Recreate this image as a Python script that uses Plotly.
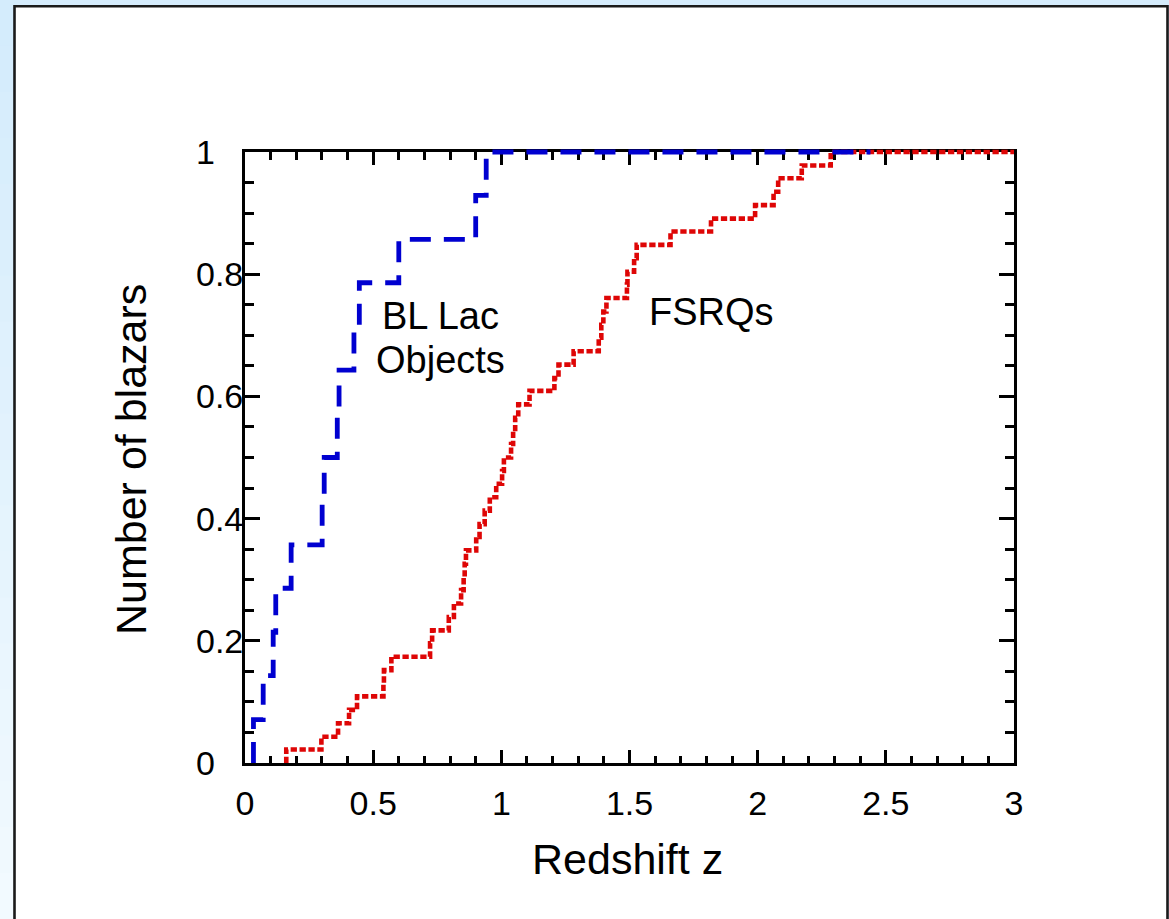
import plotly.graph_objects as go

# ---------------- data ----------------
bllac_z = [0.033, 0.071, 0.110, 0.120, 0.180, 0.301, 0.309, 0.360, 0.367,
           0.425, 0.446, 0.600, 0.900, 0.941]
bllac_frac = [0.071, 0.143, 0.214, 0.286, 0.357, 0.429, 0.500, 0.571, 0.643,
              0.714, 0.786, 0.857, 0.929, 1.000]
bllac_end_z = 2.44

fsrq_z = [0.161, 0.298, 0.363, 0.406, 0.437, 0.540, 0.542, 0.571, 0.722, 0.730,
          0.795, 0.815, 0.843, 0.853, 0.857, 0.862, 0.902, 0.915, 0.935, 0.955,
          0.980, 1.003, 1.010, 1.038, 1.046, 1.054, 1.066, 1.110, 1.207, 1.223,
          1.282, 1.380, 1.390, 1.398, 1.410, 1.490, 1.492, 1.518, 1.528, 1.660,
          1.818, 1.990, 2.062, 2.080, 2.172, 2.285]
fsrq_frac = [0.022, 0.043, 0.065, 0.087, 0.109, 0.130, 0.152, 0.174, 0.196, 0.217,
             0.239, 0.261, 0.283, 0.304, 0.326, 0.348, 0.370, 0.391, 0.413, 0.435,
             0.457, 0.478, 0.500, 0.522, 0.543, 0.565, 0.587, 0.609, 0.630, 0.652,
             0.674, 0.696, 0.717, 0.739, 0.761, 0.783, 0.804, 0.826, 0.848, 0.870,
             0.891, 0.913, 0.935, 0.957, 0.978, 1.000]
fsrq_end_z = 3.0

x_range = [0, 3]
y_range = [0, 1]
x_tick_vals = [0, 0.5, 1, 1.5, 2, 2.5, 3]
x_tick_text = ["0", "0.5", "1", "1.5", "2", "2.5", "3"]
y_tick_vals = [0, 0.2, 0.4, 0.6, 0.8, 1]
y_tick_text = ["0", "0.2", "0.4", "0.6", "0.8", "1"]

x_title = "Redshift z"
y_title = "Number of blazars"
label_bllac = ["BL Lac", "Objects"]
label_fsrq = "FSRQs"

# ---------------- layout geometry (pixels) ----------------
W, H = 1169, 919
PL, PR, PT, PB = 245, 1014, 152, 763     # frame of the main axes
PAD = 12                                  # extra room so lines on the frame are not clipped
ml, mr, mt, mb = PL - PAD, W - PR - PAD, PT - PAD, H - PB - PAD
pw, ph = W - ml - mr, H - mt - mb

def px_x(px):
    return (px - ml) / pw

def px_y(py):
    return (H - mb - py) / ph

ux = (x_range[1] - x_range[0]) / (PR - PL)
uy = (y_range[1] - y_range[0]) / (PB - PT)

FONT = "Arial, Liberation Sans, sans-serif"
BLUE = "rgb(0,0,208)"
RED = "rgb(222,6,6)"
TICK_SIZE = 34

fig = go.Figure()

# dummy trace so the framed axes exist
fig.add_trace(go.Scatter(x=x_range, y=y_range, mode="markers",
                         marker=dict(opacity=0, size=1), hoverinfo="skip",
                         showlegend=False, xaxis="x", yaxis="y"))

fig.add_trace(go.Scatter(
    x=[fsrq_z[0]] + fsrq_z + [fsrq_end_z],
    y=[0] + fsrq_frac + [fsrq_frac[-1]],
    mode="lines", line=dict(shape="hv", color=RED, width=4.6, dash="6.3px,2.6px"),
    showlegend=False, xaxis="x2", yaxis="y2", hoverinfo="skip"))

fig.add_trace(go.Scatter(
    x=[bllac_z[0]] + bllac_z + [bllac_end_z],
    y=[0] + bllac_frac + [bllac_frac[-1]],
    mode="lines", line=dict(shape="hv", color=BLUE, width=4.8, dash="21px,13px"),
    showlegend=False, xaxis="x2", yaxis="y2", hoverinfo="skip"))

axis_common = dict(showline=True, linecolor="black", linewidth=3, mirror="ticks",
                   ticks="inside", tickcolor="black", tickwidth=3,
                   showgrid=False, zeroline=False, fixedrange=True)

fig.update_layout(
    width=W, height=H,
    margin=dict(l=ml, r=mr, t=mt, b=mb, pad=0),
    paper_bgcolor="rgb(213,236,252)",
    plot_bgcolor="rgba(0,0,0,0)",
    font=dict(family=FONT, color="black"),
    xaxis=dict(domain=[PAD / pw, 1 - PAD / pw], range=x_range, anchor="y",
               tickmode="array", tickvals=x_tick_vals, ticktext=x_tick_text,
               ticklen=13, ticklabelstandoff=8,
               tickfont=dict(size=TICK_SIZE, family=FONT, color="black"),
               minor=dict(dtick=0.1, tick0=0, ticks="inside", ticklen=7.5,
                          tickwidth=3, tickcolor="black", showgrid=False),
               **axis_common),
    yaxis=dict(domain=[PAD / ph, 1 - PAD / ph], range=y_range, anchor="x",
               tickmode="array", tickvals=y_tick_vals, showticklabels=False,
               ticklen=15,
               minor=dict(dtick=0.05, tick0=0, ticks="inside", ticklen=9,
                          tickwidth=3, tickcolor="black", showgrid=False),
               **axis_common),
    xaxis2=dict(domain=[0, 1], range=[x_range[0] - PAD * ux, x_range[1] + PAD * ux],
                anchor="y2", visible=False, fixedrange=True),
    yaxis2=dict(domain=[0, 1], range=[y_range[0] - PAD * uy, y_range[1] + PAD * uy],
                anchor="x2", visible=False, fixedrange=True),
)

shapes = []
# soft gradient on the light-blue margin
n_bands = 20
for i in range(n_bands):
    t = i / (n_bands - 1)
    r = int(212 + (242 - 212) * t)
    g = int(236 + (250 - 236) * t)
    b = int(252 + (255 - 252) * t)
    y0 = i * H / n_bands
    y1 = (i + 1) * H / n_bands + 1
    shapes.append(dict(type="rect", xref="paper", yref="paper",
                       x0=px_x(0), x1=px_x(16), y0=px_y(y0), y1=px_y(y1),
                       fillcolor=f"rgb({r},{g},{b})", line=dict(width=0), layer="below"))
# white panel with dark border
shapes.append(dict(type="rect", xref="paper", yref="paper",
                   x0=px_x(14.5), x1=px_x(1167.5), y0=px_y(940), y1=px_y(6.3),
                   fillcolor="white", line=dict(color="#1a1a1a", width=2.6), layer="below"))
fig.update_layout(shapes=shapes)

ann = []
for v, t in zip(y_tick_vals, y_tick_text):
    ann.append(dict(x=px_x(194), xref="paper", y=v, yref="y", text=t, showarrow=False,
                    xanchor="left", yanchor="middle",
                    font=dict(size=TICK_SIZE, family=FONT, color="black")))
ann.append(dict(x=px_x(627), xref="paper", y=px_y(859), yref="paper", text=x_title,
                showarrow=False, xanchor="center", yanchor="middle",
                font=dict(size=43, family=FONT, color="black")))
ann.append(dict(x=px_x(131), xref="paper", y=px_y(460), yref="paper", text=y_title,
                showarrow=False, textangle=-90, xanchor="center", yanchor="middle",
                font=dict(size=43, family=FONT, color="black")))
ann.append(dict(x=px_x(440), xref="paper", y=px_y(316), yref="paper", text=label_bllac[0],
                showarrow=False, xanchor="center", yanchor="middle",
                font=dict(size=38, family=FONT, color="black")))
ann.append(dict(x=px_x(440), xref="paper", y=px_y(360), yref="paper", text=label_bllac[1],
                showarrow=False, xanchor="center", yanchor="middle",
                font=dict(size=38, family=FONT, color="black")))
ann.append(dict(x=px_x(711), xref="paper", y=px_y(312), yref="paper", text=label_fsrq,
                showarrow=False, xanchor="center", yanchor="middle",
                font=dict(size=38, family=FONT, color="black")))
fig.update_layout(annotations=ann)

fig.write_html("out.html")
